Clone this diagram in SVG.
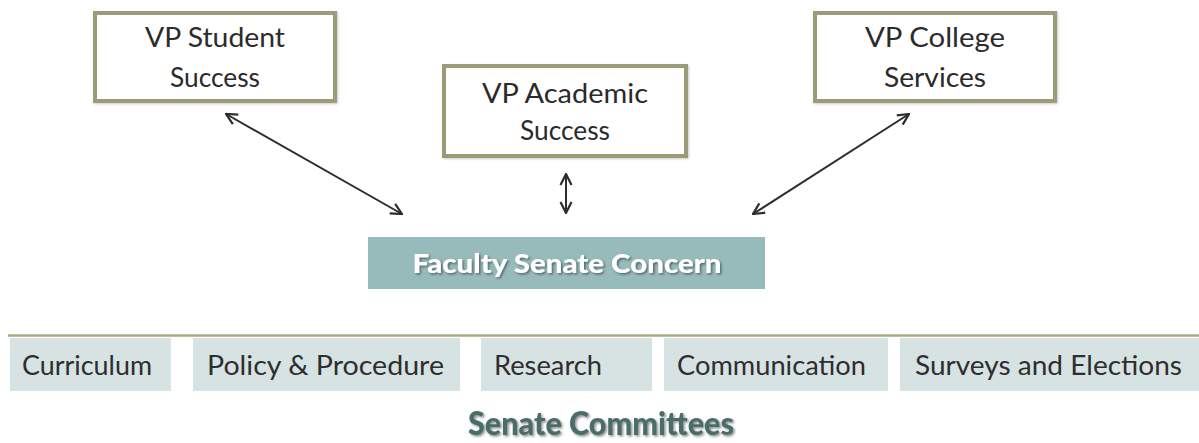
<svg xmlns="http://www.w3.org/2000/svg" width="1199" height="443" viewBox="0 0 1199 443">
  <defs>
    <style>
      .vp rect { fill: #ffffff; stroke: #9b9b78; stroke-width: 4; }
      .vpt { font-family: Lato, "Liberation Sans", sans-serif; font-size: 26px; fill: #2b2b2b; text-anchor: middle; }
      .com rect { fill: #d6e3e2; }
      .comt { font-family: Lato, "Liberation Sans", sans-serif; font-size: 26px; fill: #2e2e2e; text-anchor: start; }
      .conn line { stroke: #2d2d2d; stroke-width: 2; fill: none; marker-start: url(#ah); marker-end: url(#ah); }
      .fsc { font-family: Lato, "Liberation Sans", sans-serif; font-weight: 900; font-size: 27px; fill: #ffffff; text-anchor: middle; }
      .title { font-family: Lato, "Liberation Sans", sans-serif; font-weight: 900; font-size: 32px; fill: #4b6d69; text-anchor: middle; }
    </style>
    <marker id="ah" viewBox="0 0 14 14" refX="13" refY="7" markerWidth="14" markerHeight="14" markerUnits="userSpaceOnUse" orient="auto-start-reverse">
      <path d="M2,1.5 L13,7 L2,12.5" fill="none" stroke="#2d2d2d" stroke-width="2.2"/>
    </marker>
    <filter id="sh" x="-10%" y="-20%" width="120%" height="150%">
      <feDropShadow dx="1.5" dy="1.5" stdDeviation="1" flood-color="#000000" flood-opacity="0.45"/>
    </filter>
    <filter id="bsh" x="-5%" y="-10%" width="110%" height="120%">
      <feDropShadow dx="1" dy="1" stdDeviation="1" flood-color="#000000" flood-opacity="0.2"/>
    </filter>
  </defs>
  <rect width="1199" height="443" fill="#ffffff"/>

  <g id="vp-student" class="vp">
    <rect x="95" y="13" width="240" height="88" filter="url(#bsh)"/>
    <text class="vpt" x="215" y="47" textLength="140" lengthAdjust="spacingAndGlyphs">VP Student</text>
    <text class="vpt" x="215" y="87" textLength="90" lengthAdjust="spacingAndGlyphs">Success</text>
  </g>

  <g id="vp-academic" class="vp">
    <rect x="444" y="66" width="242" height="90" filter="url(#bsh)"/>
    <text class="vpt" x="565" y="103" textLength="166" lengthAdjust="spacingAndGlyphs">VP Academic</text>
    <text class="vpt" x="565" y="140" textLength="90" lengthAdjust="spacingAndGlyphs">Success</text>
  </g>

  <g id="vp-college" class="vp">
    <rect x="815" y="13" width="240" height="88" filter="url(#bsh)"/>
    <text class="vpt" x="935" y="47" textLength="140" lengthAdjust="spacingAndGlyphs">VP College</text>
    <text class="vpt" x="935" y="87" textLength="102" lengthAdjust="spacingAndGlyphs">Services</text>
  </g>

  <g id="faculty-senate-concern">
    <rect x="368" y="237" width="397" height="52" fill="#97bbbb"/>
    <text class="fsc" x="567" y="273" textLength="309" lengthAdjust="spacingAndGlyphs" filter="url(#sh)">Faculty Senate Concern</text>
  </g>

  <g id="connectors" class="conn">
    <line x1="226" y1="114" x2="402" y2="214"/>
    <line x1="566" y1="174" x2="566" y2="213"/>
    <line x1="909" y1="114" x2="753" y2="214"/>
  </g>

  <g id="committees">
    <line x1="8" y1="335.5" x2="1199" y2="335.5" stroke="#aaaa84" stroke-width="2.5"/>
    <g id="curriculum" class="com">
      <rect x="10" y="338" width="161" height="53"/>
      <text class="comt" x="22" y="375" textLength="130" lengthAdjust="spacingAndGlyphs">Curriculum</text>
    </g>
    <g id="policy" class="com">
      <rect x="193" y="338" width="267" height="53"/>
      <text class="comt" x="207" y="375" textLength="237" lengthAdjust="spacingAndGlyphs">Policy &amp; Procedure</text>
    </g>
    <g id="research" class="com">
      <rect x="481" y="338" width="171" height="53"/>
      <text class="comt" x="494" y="375" textLength="108" lengthAdjust="spacingAndGlyphs">Research</text>
    </g>
    <g id="communication" class="com">
      <rect x="664" y="338" width="224" height="53"/>
      <text class="comt" x="677" y="375" textLength="189" lengthAdjust="spacingAndGlyphs">Communication</text>
    </g>
    <g id="surveys" class="com">
      <rect x="900" y="338" width="299" height="53"/>
      <text class="comt" x="915" y="375" textLength="267" lengthAdjust="spacingAndGlyphs">Surveys and Elections</text>
    </g>
  </g>

  <g id="senate-committees-title">
    <text class="title" x="601" y="435" textLength="266" lengthAdjust="spacingAndGlyphs" filter="url(#sh)">Senate Committees</text>
  </g>
</svg>
